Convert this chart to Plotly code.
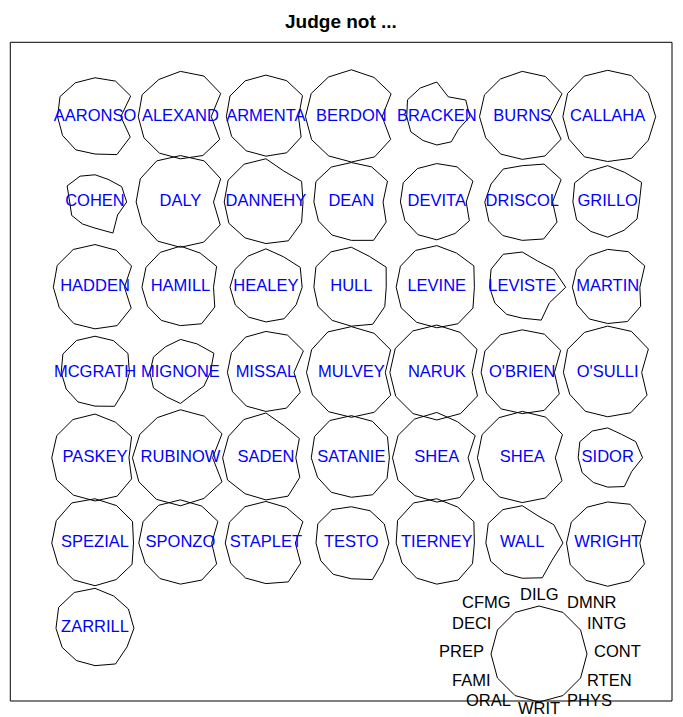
import numpy as np
import plotly.graph_objects as go

# USJudgeRatings, one list per rating column
judges = ["AARONSO", "ALEXAND", "ARMENTA", "BERDON", "BRACKEN", "BURNS", "CALLAHA",
          "COHEN", "DALY", "DANNEHY", "DEAN", "DEVITA", "DRISCOL", "GRILLO",
          "HADDEN", "HAMILL", "HEALEY", "HULL", "LEVINE", "LEVISTE", "MARTIN",
          "MCGRATH", "MIGNONE", "MISSAL", "MULVEY", "NARUK", "O'BRIEN", "O'SULLI",
          "PASKEY", "RUBINOW", "SADEN", "SATANIE", "SHEA", "SHEA", "SIDOR",
          "SPEZIAL", "SPONZO", "STAPLET", "TESTO", "TIERNEY", "WALL", "WRIGHT", "ZARRILL"]

CONT = [5.7, 6.8, 7.2, 6.8, 7.3, 6.2, 10.6, 7.0, 7.3, 8.2, 7.0, 6.5, 6.7, 7.0, 6.5, 7.3, 8.0, 7.7, 8.3, 9.6, 7.1, 7.6,
        6.6, 6.2, 7.5, 7.8, 7.1, 7.5, 7.5, 7.1, 6.6, 8.4, 6.9, 7.3, 7.7, 8.5, 6.9, 6.5, 8.3, 8.3, 9.0, 7.1, 8.6]
INTG = [7.9, 8.9, 8.1, 8.8, 6.4, 8.8, 9.0, 5.9, 8.9, 7.9, 8.0, 8.0, 8.6, 7.5, 8.1, 8.0, 7.6, 7.7, 8.2, 6.9, 8.2, 7.3,
        7.4, 8.3, 8.7, 8.9, 8.5, 9.0, 8.1, 9.2, 7.4, 8.0, 8.5, 8.9, 6.2, 8.3, 8.3, 8.2, 7.3, 8.2, 7.0, 8.4, 7.4]
DMNR = [7.7, 8.8, 7.8, 8.5, 4.3, 8.7, 8.9, 4.9, 8.9, 6.7, 7.6, 7.6, 8.2, 6.4, 8.0, 7.4, 6.6, 6.7, 7.4, 5.7, 7.7, 6.9,
        6.2, 8.1, 8.5, 8.7, 8.3, 8.9, 7.7, 9.0, 6.9, 7.9, 7.8, 8.8, 5.1, 8.1, 8.0, 7.7, 7.0, 7.8, 5.9, 8.4, 7.0]
DILG = [7.3, 8.5, 7.8, 8.8, 6.5, 8.5, 8.7, 5.1, 8.7, 8.1, 7.4, 7.2, 6.8, 6.8, 8.0, 7.7, 7.2, 7.5, 7.8, 6.6, 7.1, 6.8,
        6.2, 7.7, 8.6, 8.9, 8.0, 8.7, 8.2, 9.0, 8.4, 7.9, 8.5, 8.7, 5.6, 8.3, 8.1, 7.8, 6.8, 8.3, 7.0, 7.7, 7.5]
CFMG = [7.1, 7.8, 7.5, 8.3, 6.0, 7.9, 8.5, 5.4, 8.6, 7.9, 7.3, 7.0, 6.9, 6.5, 7.9, 7.3, 6.5, 7.4, 7.7, 6.9, 6.6, 6.7,
        5.4, 7.4, 8.5, 8.7, 7.9, 8.4, 8.0, 8.4, 8.0, 7.8, 8.1, 8.4, 5.6, 8.4, 7.9, 7.6, 7.0, 8.4, 7.0, 7.5, 7.5]
DECI = [7.4, 8.1, 7.6, 8.5, 6.2, 8.0, 8.5, 5.9, 8.5, 8.0, 7.5, 7.1, 6.6, 7.0, 8.0, 7.3, 6.5, 7.5, 7.7, 6.6, 6.6, 6.8,
        5.7, 7.3, 8.4, 8.8, 7.9, 8.5, 8.1, 8.6, 7.9, 7.8, 8.2, 8.5, 5.9, 8.2, 7.9, 7.7, 7.1, 8.3, 7.2, 7.7, 7.7]
PREP = [7.1, 8.0, 7.5, 8.7, 5.7, 8.1, 8.5, 4.8, 8.4, 7.9, 7.1, 6.9, 7.1, 6.6, 7.9, 7.3, 6.8, 7.1, 7.7, 6.2, 6.7, 6.4,
        5.8, 7.3, 8.5, 8.9, 7.8, 8.4, 8.2, 9.1, 8.2, 7.6, 8.4, 8.5, 5.6, 8.2, 7.9, 7.7, 6.7, 7.7, 6.9, 7.8, 7.4]
FAMI = [7.1, 8.0, 7.5, 8.7, 5.7, 8.0, 8.5, 5.1, 8.4, 8.1, 7.2, 7.0, 7.3, 6.8, 7.8, 7.2, 6.7, 7.3, 7.8, 6.0, 6.7, 6.3,
        5.9, 7.3, 8.5, 9.0, 7.8, 8.3, 8.4, 9.1, 8.4, 7.4, 8.5, 8.5, 5.6, 8.1, 7.7, 7.7, 6.7, 7.6, 6.9, 8.2, 7.2]
ORAL = [7.1, 7.8, 7.3, 8.4, 5.1, 8.0, 8.6, 4.7, 8.4, 7.7, 7.1, 7.0, 7.2, 6.3, 7.8, 7.1, 6.4, 7.1, 7.5, 5.8, 6.8, 6.3,
        5.2, 7.2, 8.4, 8.8, 7.8, 8.3, 8.0, 8.9, 7.7, 7.4, 8.1, 8.4, 5.3, 7.9, 7.6, 7.5, 6.7, 7.5, 6.5, 8.0, 6.9]
WRIT = [7.0, 7.9, 7.4, 8.5, 5.3, 8.0, 8.4, 4.9, 8.5, 7.8, 7.2, 7.1, 7.2, 6.6, 7.8, 7.2, 6.5, 7.3, 7.6, 5.8, 6.8, 6.3,
        5.8, 7.3, 8.4, 8.9, 7.7, 8.3, 8.1, 9.0, 7.9, 7.4, 8.3, 8.4, 5.5, 8.0, 7.7, 7.6, 6.7, 7.7, 6.6, 8.1, 7.0]
PHYS = [8.3, 8.5, 7.9, 8.8, 5.5, 8.6, 9.1, 6.8, 8.8, 8.5, 8.4, 6.9, 8.1, 6.2, 8.4, 8.0, 6.9, 8.1, 8.0, 7.2, 7.5, 7.4,
        4.7, 7.8, 8.7, 9.0, 8.3, 8.8, 8.4, 8.9, 8.4, 8.1, 8.7, 8.8, 6.3, 8.0, 8.1, 8.5, 8.0, 8.1, 7.6, 8.3, 7.8]
RTEN = [7.8, 8.7, 7.8, 8.7, 4.8, 8.6, 9.0, 5.0, 8.8, 7.9, 7.7, 7.2, 7.7, 6.5, 8.0, 7.6, 6.7, 7.4, 8.0, 6.0, 7.3, 6.6,
        5.2, 7.6, 8.7, 9.0, 8.2, 8.7, 8.1, 9.2, 7.5, 7.9, 8.3, 8.8, 5.3, 8.2, 8.0, 7.7, 7.0, 7.9, 6.6, 8.1, 7.1]

key_labels = ["CONT", "INTG", "DMNR", "DILG", "CFMG", "DECI", "PREP", "FAMI", "ORAL", "WRIT", "PHYS", "RTEN"]
ratings = np.array([CONT, INTG, DMNR, DILG, CFMG, DECI, PREP, FAMI, ORAL, WRIT, PHYS, RTEN]).T
scaled = ratings / ratings.max(axis=0)

# axes span the visible page in pixels; the page body has an 8px margin
W, H, PAD = 683, 717, 8
n_col = 7
x0, y0, dx, dy = 95.0, 116.7, 85.45, 85.27
R = 48.0
key_x, key_y = 539.0, 654.0
angles = np.arange(12) * 2 * np.pi / 12
FONT = "Liberation Sans, Arial, sans-serif"

fig = go.Figure()


def star(cx, cy, r):
    xs = cx + r * np.cos(angles)
    ys = cy - r * np.sin(angles)
    return np.append(xs, xs[0]), np.append(ys, ys[0])


cx_all, cy_all = [], []
for i, name in enumerate(judges):
    cx = x0 + (i % n_col) * dx
    cy = y0 + (i // n_col) * dy
    cx_all.append(cx)
    cy_all.append(cy)
    xs, ys = star(cx, cy, R * scaled[i])
    fig.add_trace(go.Scatter(x=xs, y=ys, mode="lines",
                             line=dict(color="black", width=1),
                             hoverinfo="skip", showlegend=False))

fig.add_trace(go.Scatter(
    x=cx_all, y=cy_all, mode="text", text=judges,
    textposition="middle center",
    textfont=dict(family=FONT, size=16.5, color="blue"),
    showlegend=False, hoverinfo="skip"))

# key star
kx, ky = star(key_x, key_y, R * np.ones(12))
fig.add_trace(go.Scatter(x=kx, y=ky, mode="lines",
                         line=dict(color="black", width=1),
                         hoverinfo="skip", showlegend=False))

label_cy = 651.0
for lab, a in zip(key_labels, angles):
    c = np.cos(a)
    if c > 0.1:
        anchor = "left"
    elif c < -0.1:
        anchor = "right"
    else:
        anchor = "center"
    fig.add_annotation(x=key_x + 54 * c, y=label_cy - 57 * np.sin(a), text=lab,
                       showarrow=False, xanchor=anchor, yanchor="middle",
                       font=dict(family=FONT, size=16.5, color="black"),
                       borderpad=0)

# frame
fig.add_shape(type="rect", x0=10.3, x1=672, y0=42.3, y1=701,
              line=dict(color="black", width=1), layer="below")

fig.add_annotation(x=341, y=21, text="<b>Judge not ...</b>", showarrow=False,
                   font=dict(family=FONT, size=19, color="black"))

fig.update_layout(
    width=W - PAD, height=H - PAD,
    margin=dict(l=0, r=0, t=0, b=0),
    plot_bgcolor="white", paper_bgcolor="white",
    xaxis=dict(range=[PAD, W], visible=False, fixedrange=True),
    yaxis=dict(range=[H, PAD], visible=False, fixedrange=True),
    showlegend=False,
)

fig.write_html("out.html")
